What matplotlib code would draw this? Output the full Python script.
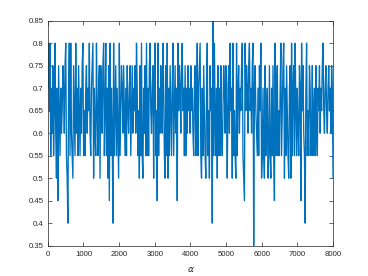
import numpy as np
import matplotlib
matplotlib.use("Agg")
import matplotlib.pyplot as plt
from matplotlib.ticker import FixedLocator, FixedFormatter

# Level codes: a=0.35, b=0.40, ... k=0.85 (steps of 0.05)
level_codes = (
    "hjgjehfiegjfdhcigehf"
    "gihfijedbhjejfedigej"
    "fheigehfijegehifhgjf"
    "ehijdhfejgehidihfije"
    "gjehdicjehfbjegiehfd"
    "jegihfigeheigfhiegif"
    "hgifjhegdiejedhfieje"
    "heijgfhidhjegcjehfig"
    "fjhediejdheigehjegif"
    "hcjgihfijgheiehfighf"
    "ighfehiegjehijedheig"
    "edhjegdighbkejgehdie"
    "heifegihfigdhifjghdj"
    "egedjehifhgijedcjgih"
    "fijghfijahigfeheigjd"
    "ehedieghdeiedheiecje"
    "hiegehjegijdheigedhi"
    "djehiejgehfeihcjgife"
    "bhjegeihefiegheifehg"
    "ifhgijgfhigfhighfihd"
)
level_values = {"a": 0.35, "b": 0.40, "c": 0.45, "d": 0.50, "e": 0.55, "f": 0.60,
                "g": 0.65, "h": 0.70, "i": 0.75, "j": 0.80, "k": 0.85}
series = [level_values[c] for c in level_codes]
x_start, x_end = 1, 8000

xticks = [0, 1000, 2000, 3000, 4000, 5000, 6000, 7000, 8000]
xtick_labels = ["0", "1000", "2000", "3000", "4000", "5000", "6000", "7000", "8000"]
yticks = [0.35, 0.4, 0.45, 0.5, 0.55, 0.6, 0.65, 0.7, 0.75, 0.8, 0.85]
ytick_labels = ["0.35", "0.4", "0.45", "0.5", "0.55", "0.6", "0.65", "0.7", "0.75", "0.8", "0.85"]
xlabel = r"$\alpha$"

plt.rcParams['font.family'] = ['Liberation Sans', 'DejaVu Sans']
fig = plt.figure(figsize=(3.68, 2.76), dpi=100)
ax = fig.add_axes([0.13, 0.11, 0.775, 0.815])

x = np.linspace(x_start, x_end, len(series))
ax.plot(x, series, color='#0072BD', lw=0.95)

ax.set_xlim(0, 8000)
ax.set_ylim(0.35, 0.85)
ax.xaxis.set_major_locator(FixedLocator(xticks))
ax.xaxis.set_major_formatter(FixedFormatter(xtick_labels))
ax.yaxis.set_major_locator(FixedLocator(yticks))
ax.yaxis.set_major_formatter(FixedFormatter(ytick_labels))

axcol = '#262626'
for s in ax.spines.values():
    s.set_color(axcol)
    s.set_linewidth(0.5)
ax.tick_params(direction='in', length=2.8, width=0.5, colors=axcol,
               labelsize=5.6, top=True, right=True)
ax.tick_params(axis='x', pad=4)
ax.tick_params(axis='y', pad=3)
ax.set_xlabel(xlabel, fontsize=6.5, color=axcol, labelpad=5)

fig.savefig('out.png', dpi=100, facecolor='white')
